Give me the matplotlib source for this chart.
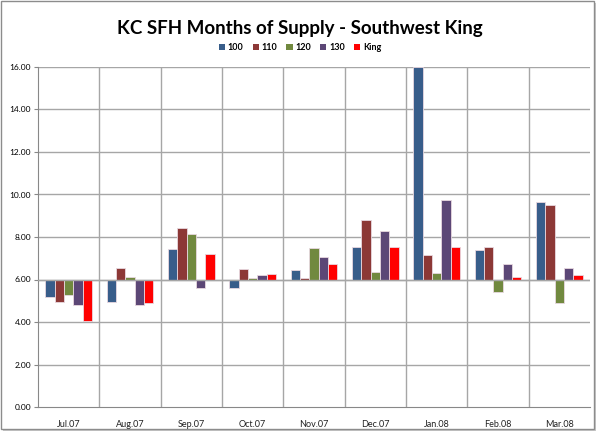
import numpy as np
import matplotlib.pyplot as plt
from matplotlib.patches import Rectangle, Patch

# data (bars hang from 6.00)
months = ['Jul.07', 'Aug.07', 'Sep.07', 'Oct.07', 'Nov.07', 'Dec.07', 'Jan.08', 'Feb.08', 'Mar.08']
s100 = [5.18, 4.95, 7.43, 5.58, 6.47, 7.52, 16.00, 7.40, 9.64]
s110 = [4.95, 6.53, 8.42, 6.50, 6.09, 8.81, 7.15, 7.55, 9.50]
s120 = [5.28, 6.13, 8.12, 6.05, 7.49, 6.35, 6.31, 5.40, 4.90]
s130 = [4.78, 4.78, 5.62, 6.22, 7.08, 8.27, 9.72, 6.72, 6.56]
king = [4.04, 4.90, 7.22, 6.28, 6.75, 7.55, 7.52, 6.13, 6.19]

names = ['100', '110', '120', '130', 'King']
series = [s100, s110, s120, s130, king]
colors = ['#385D8A', '#8C3836', '#71893F', '#5C4776', '#FF0000']
base = 6.0

plt.rcParams['font.family'] = ['Lato', 'DejaVu Sans']

fig = plt.figure(figsize=(6, 4.36), dpi=100)
ax = fig.add_axes([38 / 600, 1 - 407 / 436, 552 / 600, 340 / 436])

x = np.arange(len(months))
w = 0.153
for i, (vals, c) in enumerate(zip(series, colors)):
    vals = np.array(vals)
    ax.bar(x + (i - 2) * w, vals - base, w, bottom=base, color=c,
           edgecolor='#E8D8E0', linewidth=0.6, zorder=3)

ax.set_xlim(-0.5, len(months) - 0.5)
ax.set_ylim(0, 16)
ax.set_yticks(np.arange(0, 17, 2))
ax.set_yticklabels(['%.2f' % v for v in np.arange(0, 17, 2)], fontsize=6)
ax.set_xticks(x)
ax.set_xticklabels(months, fontsize=6.5, color='#222222')
ax.tick_params(axis='x', length=0, pad=9)
ax.tick_params(axis='y', length=3, pad=2, color='#888888')

for v in np.arange(2, 17, 2):
    ax.axhline(v, color='#A6A6A6', linewidth=1, zorder=1)
for b in np.arange(0.5, len(months) - 0.5, 1):
    ax.axvline(b, color='#A6A6A6', linewidth=1, zorder=1)
ax.axhline(base, color='#A6A6A6', linewidth=1, zorder=4)

for side in ['top', 'right']:
    ax.spines[side].set_visible(False)
for side in ['left', 'bottom']:
    ax.spines[side].set_color('#888888')

fig.text(0.5, 1 - 28 / 436, 'KC SFH Months of Supply - Southwest King',
         ha='center', va='center', fontsize=13.5, fontweight='bold')
handles = [Patch(facecolor=c, edgecolor='none') for c in colors]
fig.legend(handles, names, loc='center', bbox_to_anchor=(0.5, 1 - 47.5 / 436), ncol=5,
           frameon=False, handlelength=0.7, handleheight=0.7,
           handletextpad=0.3, columnspacing=1.0, prop={'weight': 'bold', 'size': 6.5})

# chart border with shadow
fig.patches.append(Rectangle((3 / 600, 5 / 436), 593 / 600, 428 / 436, transform=fig.transFigure,
                             facecolor='#C8C8C8', edgecolor='none', zorder=-2))
fig.patches.append(Rectangle((1 / 600, 7 / 436), 593 / 600, 428 / 436, transform=fig.transFigure,
                             facecolor='white', edgecolor='#8C8C8C', linewidth=1, zorder=-1))

fig.savefig('out.png', dpi=100)
